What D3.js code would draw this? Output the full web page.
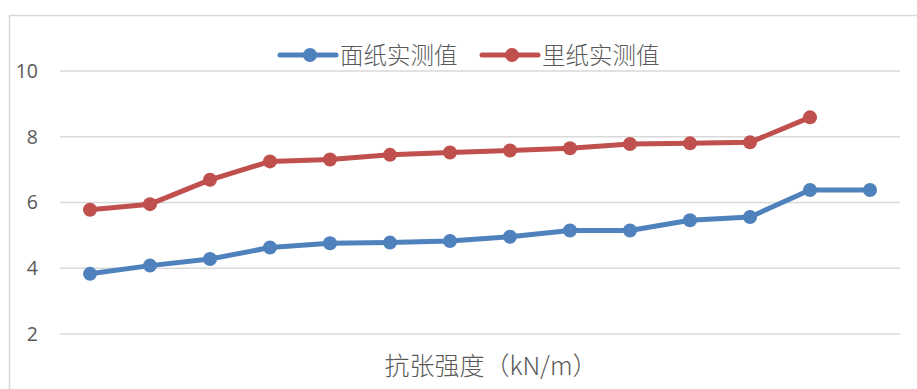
<!DOCTYPE html>
<html>
<head>
<meta charset="utf-8">
<script src="https://cdn.jsdelivr.net/npm/d3@7"></script>
<style>
  body { margin: 0; background: #fff; }
  text { fill: #595959; }
</style>
</head>
<body>
<svg id="chart"></svg>
<script>
var w = 917;
var h = 389;

// data
var categories = d3.range(1, 15);
var faceValues = [3.83, 4.08, 4.28, 4.63, 4.76, 4.78, 4.83, 4.96, 5.15, 5.15, 5.46, 5.56, 6.38, 6.38];
var backValues = [5.78, 5.95, 6.69, 7.25, 7.31, 7.45, 7.52, 7.58, 7.65, 7.78, 7.80, 7.83, 8.59];
var seriesNames = ["面纸实测值", "里纸实测值"];
var seriesColors = ["#4f81bd", "#c0504d"];
var yTicks = [2, 4, 6, 8, 10];
var xTitle = "抗张强度（kN/m）";

let svg = d3.select("#chart")
    .attr("width", w)
    .attr("height", h);

// chart frame (only top/left in view)
svg.append("rect")
    .attr("x", 9.5).attr("y", 15.5)
    .attr("width", w + 20).attr("height", h + 20)
    .attr("fill", "none")
    .attr("stroke", "#d9d9d9")
    .attr("stroke-width", 1.5);

let xScale = d3.scaleBand()
    .domain(categories)
    .range([60, 900]);

let yScale = d3.scaleLinear()
    .domain([2, 10])
    .range([334, 71]);

// gridlines
svg.append("g")
    .selectAll("line")
    .data(yTicks)
    .join("line")
    .attr("x1", 60).attr("x2", 900)
    .attr("y1", d => yScale(d)).attr("y2", d => yScale(d))
    .attr("stroke", "#d9d9d9")
    .attr("stroke-width", 1.5);

// y axis labels
let yAxis = d3.axisLeft(yScale)
    .tickValues(yTicks)
    .tickSize(0)
    .tickPadding(0);
let yg = svg.append("g")
    .attr("transform", "translate(38,0)")
    .call(yAxis);
yg.select(".domain").remove();
yg.selectAll("text")
    .attr("font-family", "'Open Sans', 'Liberation Sans', sans-serif")
    .attr("font-size", 19.5)
    .attr("fill", "#595959");

// x title
svg.append("text")
    .attr("x", 491)
    .attr("y", 375)
    .attr("text-anchor", "middle")
    .attr("font-family", "'Noto Sans CJK SC', sans-serif")
    .attr("font-weight", 300)
    .attr("font-size", 25)
    .text(xTitle);

let line = d3.line()
    .x((d, i) => xScale(categories[i]) + xScale.bandwidth() / 2)
    .y(d => yScale(d));

[faceValues, backValues].forEach((vals, k) => {
    svg.append("path")
        .datum(vals)
        .attr("d", line)
        .attr("fill", "none")
        .attr("stroke", seriesColors[k])
        .attr("stroke-width", 5)
        .attr("stroke-linejoin", "round");
    svg.append("g")
        .selectAll("circle")
        .data(vals)
        .join("circle")
        .attr("cx", (d, i) => xScale(categories[i]) + xScale.bandwidth() / 2)
        .attr("cy", d => yScale(d))
        .attr("r", 7)
        .attr("fill", seriesColors[k]);
});

// legend
let legendX = [280, 482];
let legend = svg.append("g");
seriesNames.forEach((name, k) => {
    let g = legend.append("g").attr("transform", `translate(${legendX[k]},55)`);
    g.append("line")
        .attr("x1", 0).attr("x2", 56)
        .attr("stroke", seriesColors[k])
        .attr("stroke-width", 5)
        .attr("stroke-linecap", "round");
    g.append("circle")
        .attr("cx", 30).attr("r", 7)
        .attr("fill", seriesColors[k]);
    g.append("text")
        .attr("x", 60)
        .attr("y", 9)
        .attr("font-family", "'Noto Sans CJK SC', sans-serif")
        .attr("font-weight", 300)
        .attr("font-size", 23.5)
        .text(name);
});
</script>
</body>
</html>
